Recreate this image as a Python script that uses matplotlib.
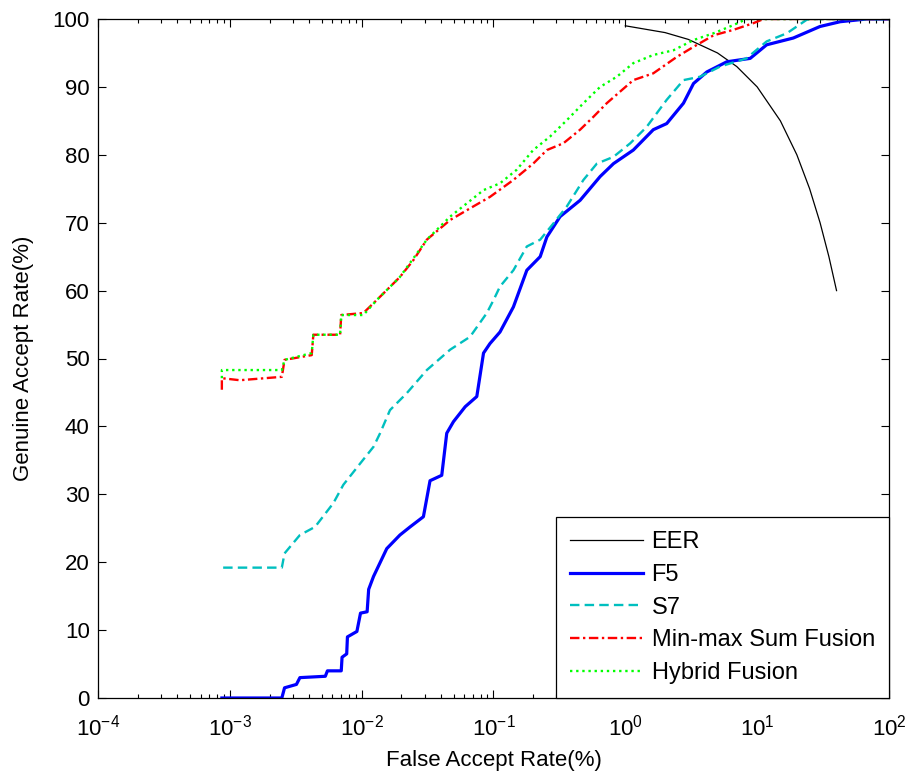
import matplotlib
matplotlib.use("Agg")
import matplotlib.pyplot as plt
from matplotlib.ticker import LogLocator, NullFormatter

plt.rcParams['font.family'] = ['Liberation Sans', 'DejaVu Sans']
plt.rcParams['mathtext.fontset'] = 'custom'
plt.rcParams['mathtext.rm'] = 'Liberation Sans'
plt.rcParams['mathtext.it'] = 'Liberation Sans'

# EER line
eer_x = [1, 2, 3, 5, 7, 10, 15, 20, 25, 30, 35, 40]
eer_y = [99, 98, 97, 95, 93, 90, 85, 80, 75, 70, 65, 60]

# F5
f5_x = [0.00087, 0.00248, 0.0026, 0.0032, 0.0034, 0.0053, 0.0055, 0.0070, 0.0071, 0.0077,
        0.0078, 0.0092, 0.0098, 0.0110, 0.0113, 0.0123, 0.0155, 0.0195, 0.0233, 0.0294,
        0.033, 0.0405, 0.0442, 0.0497, 0.061, 0.0747, 0.084, 0.094, 0.112, 0.1416,
        0.179, 0.226, 0.254, 0.32, 0.454, 0.644, 0.813, 1.15, 1.63, 2.06,
        2.76, 3.29, 4.15, 5.89, 8.85, 11.8, 18.8, 30.0, 42.6, 67.8, 100]
f5_y = [0.0, 0.0, 1.5, 2.0, 3.0, 3.2, 4.0, 4.0, 6.0, 6.5,
        9.0, 9.8, 12.5, 12.7, 16.0, 17.9, 22.0, 24.0, 25.2, 26.7,
        32.0, 32.8, 39.0, 40.7, 42.9, 44.4, 50.8, 52.2, 53.9, 57.6,
        63.0, 65.0, 67.9, 70.9, 73.3, 76.8, 78.7, 80.7, 83.7, 84.6,
        87.6, 90.5, 92.2, 93.7, 94.2, 96.2, 97.2, 98.9, 99.6, 100, 100]

# S7
s7_x = [0.00089, 0.00248, 0.0026, 0.0034, 0.00443, 0.0061, 0.00726, 0.0098, 0.0123, 0.0138,
        0.0164, 0.022, 0.0312, 0.0469, 0.0664, 0.089, 0.1, 0.112, 0.1416, 0.179,
        0.226, 0.285, 0.36, 0.481, 0.608, 0.813, 1.09, 1.45, 2.06, 2.76,
        3.69, 5.24, 8.3, 11.8, 16.8, 23.8, 26, 100]
s7_y = [19.2, 19.2, 21.3, 24.0, 25.2, 28.7, 31.4, 34.6, 37.0, 39.0,
        42.4, 44.9, 48.3, 51.3, 53.2, 56.7, 58.6, 60.6, 63.0, 66.5,
        67.5, 69.9, 72.4, 76.3, 78.7, 79.7, 81.7, 84.1, 88.1, 91.0,
        91.5, 93.0, 94.2, 96.7, 97.9, 99.9, 100, 100]

# Min-max Sum Fusion
mm_x = [0.00087, 0.00087, 0.00119, 0.00248, 0.0026, 0.00418, 0.0043, 0.00686, 0.0070, 0.0103,
        0.013, 0.0195, 0.0247, 0.0312, 0.0469, 0.0704, 0.094, 0.1416, 0.2, 0.254,
        0.339, 0.454, 0.573, 0.723, 1.15, 1.63, 2.45, 3.29, 4.67, 6.6,
        9.4, 11.2, 100]
mm_y = [45.4, 47.1, 46.8, 47.3, 49.8, 50.5, 53.5, 53.5, 56.4, 56.7,
        58.6, 62.0, 64.5, 67.5, 70.4, 72.4, 73.8, 76.3, 78.7, 80.7,
        81.7, 83.7, 85.6, 87.6, 91.0, 92.0, 94.4, 95.9, 97.6, 98.4,
        99.4, 100, 100]

# Hybrid Fusion
hy_x = [0.00087, 0.00087, 0.00248, 0.0026, 0.00418, 0.0043, 0.00686, 0.0070, 0.0103, 0.013,
        0.0195, 0.0312, 0.0469, 0.084, 0.112, 0.15, 0.2, 0.269, 0.36, 0.481,
        0.644, 0.862, 1.15, 1.63, 2.32, 3.29, 4.67, 6.6, 8.3, 100]
hy_y = [47.1, 48.3, 48.3, 49.8, 50.8, 53.5, 53.5, 56.4, 56.4, 58.6,
        62.0, 67.5, 70.9, 74.8, 75.8, 77.8, 80.7, 82.7, 85.1, 87.6,
        90.0, 91.5, 93.5, 94.7, 95.4, 96.9, 97.9, 99.1, 100, 100]

xticks = [1e-4, 1e-3, 1e-2, 1e-1, 1e0, 1e1, 1e2]
yticks = [0, 10, 20, 30, 40, 50, 60, 70, 80, 90, 100]

FS = 16

fig = plt.figure(figsize=(9.11, 7.78), dpi=100)
ax = fig.add_axes([98/911, 80/778, (889-98)/911, (698-19)/778])

ax.plot(eer_x, eer_y, color='black', lw=0.9, label='EER')
ax.plot(f5_x, f5_y, color='#0000ff', lw=2.3, label='F5')
ax.plot(s7_x, s7_y, color='#00bfbf', lw=1.7, ls=(0, (4, 2.2)), label='S7')
ax.plot(mm_x, mm_y, color='#ff0000', lw=1.7, ls=(0, (4, 1.5, 1, 1.5)), label='Min-max Sum Fusion')
ax.plot(hy_x, hy_y, color='#00ff00', lw=1.7, ls=(0, (1, 1.6)), label='Hybrid Fusion')

ax.set_xscale('log')
ax.set_xlim(1e-4, 1e2)
ax.set_ylim(0, 100)
ax.set_xticks(xticks)
ax.set_yticks(yticks)
ax.xaxis.set_minor_locator(LogLocator(base=10, subs=range(2, 10), numticks=100))
ax.xaxis.set_minor_formatter(NullFormatter())
ax.tick_params(which='both', direction='in', top=True, right=True, labelsize=FS, colors='black')
ax.tick_params(which='major', length=6, width=0.8)
ax.tick_params(which='minor', length=3, width=0.8)
ax.tick_params(axis='x', pad=12)
ax.tick_params(axis='y', pad=6)
for s in ax.spines.values():
    s.set_linewidth(0.9)
    s.set_color('black')

ax.set_xlabel('False Accept Rate(%)', fontsize=FS, labelpad=7)
ax.set_ylabel('Genuine Accept Rate(%)', fontsize=FS, labelpad=13)

leg = ax.legend(loc='lower right', borderaxespad=0, fancybox=False, fontsize=17,
                handlelength=3.1, labelspacing=0.45, handletextpad=0.35,
                borderpad=0.6, framealpha=1)
leg.get_frame().set_edgecolor('black')
leg.get_frame().set_linewidth(0.9)

fig.savefig('out.png', dpi=100)
